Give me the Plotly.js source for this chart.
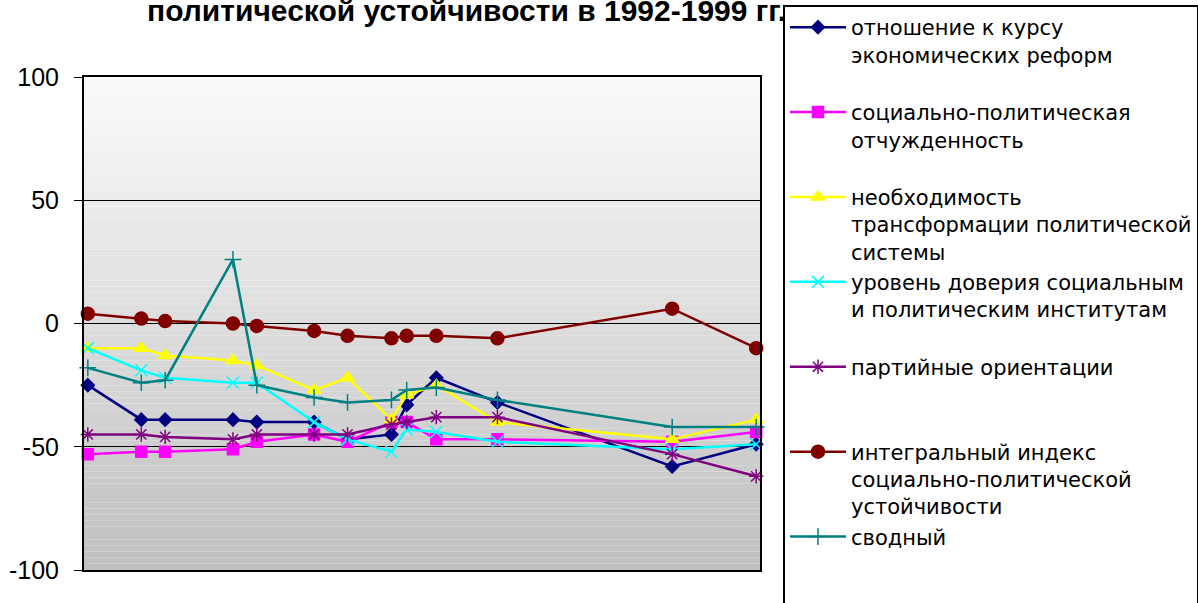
<!DOCTYPE html>
<html>
<head>
<meta charset="utf-8">
<script src="https://cdn.plot.ly/plotly-3.0.1.min.js"></script>
<style>html,body{margin:0;padding:0;background:#fff;}#chart{width:1198px;height:603px;}</style>
</head>
<body>
<div id="chart"></div>
<script>
// survey moments (decimal years)
var surveyTime = [1992.00, 1992.56, 1992.81, 1993.52, 1993.77, 1994.37, 1994.72, 1995.18, 1995.34, 1995.65, 1996.29, 1998.12, 1999.00];

var seriesNames = [
  "отношение к курсу<br>экономических реформ",
  "социально-политическая<br>отчужденность",
  "необходимость<br>трансформации политической<br>системы",
  "уровень доверия социальным<br>и политическим институтам",
  "партийные ориентации",
  "интегральный индекс<br>социально-политической<br>устойчивости",
  "сводный"
];

var economicReforms   = [-25, -39, -39, -39, -40, -40, -47, -45, -33, -22, -32, -58, -49];
var alienation        = [-53, -52, -52, -51, -48, -45, -48, -40, -40, -47, -47, -48, -44];
var transformation    = [-10, -10, -13, -15, -17, -27, -22, -39, -29, -25, -40, -47, -39];
var trustInstitutions = [-10, -19, -22, -24, -24, -40, -47, -52, -43, -44, -48, -51, -49];
var partyOrientation  = [-45, -45, -46, -47, -45, -45, -45, -41, -40, -38, -38, -53, -62];
var integralIndex     = [4, 2, 1, 0, -1, -3, -5, -6, -5, -5, -6, 6, -10];
var summary           = [-18, -24, -23, 26, -25, -30, -32, -31, -27, -26, -31, -42, -42];

var yTicks = [-100, -50, 0, 50, 100];
var chartTitle = "политической устойчивости в 1992-1999 гг.";

var allSeries = [economicReforms, alienation, transformation, trustInstitutions, partyOrientation, integralIndex, summary];
var colors  = ["#000080", "#FF00FF", "#FFFF00", "#00FFFF", "#800080", "#800000", "#008080"];
var symbols = ["diamond", "square", "triangle-up", "x-thin-open", "asterisk-open", "circle", "cross-thin-open"];
var sizes   = [10, 11, 12, 12, 12, 13, 12];
var lineCounts = [2, 2, 3, 2, 1, 3, 1];

var traces = allSeries.map(function (vals, i) {
  var name = seriesNames[i];
  for (var k = lineCounts[i]; k < 3; k++) name += "<br>&nbsp;";
  return {
    type: "scatter", mode: "lines+markers",
    x: surveyTime, y: vals, name: name,
    line: {color: colors[i], width: 2.5},
    marker: {symbol: symbols[i], size: sizes[i], color: colors[i],
             line: {color: colors[i], width: 1.5}},
    cliponaxis: false
  };
});

// vertical gradient background strips
var shapes = [];
var N = 80;
for (var s = 0; s < N; s++) {
  var t = s / (N - 1);
  var c = Math.round(250 - (250 - 192) * t);
  shapes.push({type: "rect", xref: "paper", yref: "paper", layer: "below",
    x0: 0, x1: 1, y0: 1 - (s + 1) / N, y1: 1 - s / N,
    fillcolor: "rgb(" + c + "," + c + "," + c + ")", line: {width: 0}});
}

var layout = {
  width: 1198, height: 603,
  margin: {l: 84, r: 438, t: 77, b: 33, autoexpand: false},
  paper_bgcolor: "#ffffff", plot_bgcolor: "rgba(0,0,0,0)",
  font: {family: "Liberation Sans, Arial, sans-serif", color: "#000"},
  title: {text: "<b>" + chartTitle + "</b>", font: {size: 30, color: "#000"},
          xref: "paper", x: 0.566, xanchor: "center", yref: "container", y: 1, yanchor: "top", pad: {t: 0}},
  xaxis: {range: [1991.96, 1999.04], showticklabels: false, ticks: "", showgrid: false, zeroline: false,
          showline: true, linecolor: "#000", linewidth: 2, mirror: true, fixedrange: true},
  yaxis: {range: [-100, 100], tickvals: yTicks, ticktext: yTicks.map(String), ticks: "outside", ticklen: 8,
          tickcolor: "#000", tickwidth: 1, tickfont: {size: 25, color: "#000"}, ticklabelstandoff: 10,
          showgrid: true, gridcolor: "#000", gridwidth: 1, zeroline: false,
          showline: true, linecolor: "#000", linewidth: 2, mirror: true},
  legend: {x: 1.034, xanchor: "left", xref: "paper", y: 1.146, yanchor: "top", yref: "paper",
           bgcolor: "#ffffff", bordercolor: "#000", borderwidth: 2, maxheight: 900,
           font: {size: 21, color: "#000", family: "DejaVu Sans, sans-serif"}, valign: "top", itemwidth: 56,
           traceorder: "normal"},
  shapes: shapes,
  showlegend: true
};

Plotly.newPlot("chart", traces, layout, {staticPlot: true, displayModeBar: false});
</script>
</body>
</html>
